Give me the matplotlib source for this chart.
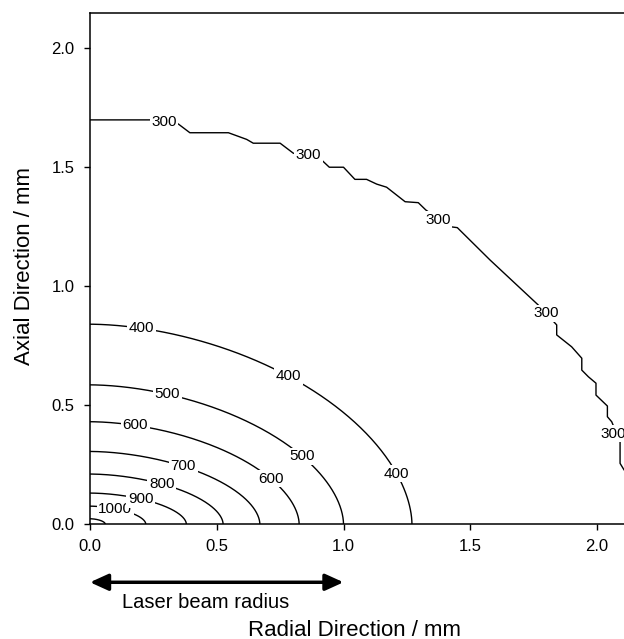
import matplotlib
matplotlib.use("Agg")
import matplotlib.pyplot as plt
import numpy as np

plt.rcParams['font.family'] = ['Liberation Sans', 'DejaVu Sans']

# closed-form isotherms: level, radial intercept, axial intercept (mm)
levels = [1100, 1000, 900, 800, 700, 600, 500, 400]
radial_int = [0.06, 0.22, 0.38, 0.525, 0.67, 0.825, 1.0, 1.27]
axial_int = [0.022, 0.075, 0.13, 0.21, 0.305, 0.43, 0.585, 0.84]
label_r = {1000: [0.10], 900: [0.20], 800: [0.283], 700: [0.368],
           600: [0.178, 0.713], 500: [0.305, 0.838], 400: [0.204, 0.782, 1.21]}

# 300 isotherm, read as a stepped line
r300 = [0, 0.237, 0.348, 0.394, 0.546, 0.618, 0.644, 0.75, 0.802, 0.914, 0.944, 1.0,
        1.045, 1.091, 1.131, 1.170, 1.243, 1.295, 1.325, 1.420, 1.449, 1.578, 1.768,
        1.841, 1.841, 1.900, 1.940, 1.940, 1.966, 1.996, 1.996, 2.041, 2.041, 2.058,
        2.091, 2.091, 2.107, 2.15]
z300 = [1.699, 1.699, 1.682, 1.645, 1.645, 1.617, 1.601, 1.601, 1.559, 1.530, 1.500, 1.5,
        1.449, 1.449, 1.429, 1.416, 1.355, 1.351, 1.320, 1.250, 1.246, 1.110, 0.921,
        0.837, 0.795, 0.745, 0.697, 0.647, 0.619, 0.592, 0.542, 0.496, 0.451, 0.430,
        0.346, 0.255, 0.227, 0.19]
labels300 = [(0.292, 1.69), (0.861, 1.551), (1.372, 1.28), (1.80, 0.886), (2.065, 0.38)]

n = 1.8
W, H = 624, 639
fig = plt.figure(figsize=(W / 100, H / 100), dpi=100)
ax = fig.add_axes([90 / W, (H - 524) / H, 2.25 * 253.5 / W, (524 - 13) / H])
ax.set_xlim(0, 2.25)
ax.set_ylim(0, (524 - 13) / 237.85)

def curve_y(x, a, b):
    return b * np.clip(1 - (x / a) ** n, 0, 1) ** (1 / n)

lab_style = dict(fontsize=11, ha='center', va='center', zorder=3,
                 bbox=dict(facecolor='white', edgecolor='none', pad=1.2))

t = np.linspace(0, np.pi / 2, 200)
for lev, a, b in zip(levels, radial_int, axial_int):
    xs = a * np.cos(t) ** (2 / n)
    ys = b * np.sin(t) ** (2 / n)
    ax.plot(xs, ys, color='black', lw=1.0, zorder=2)
    for xl in label_r.get(lev, []):
        ax.text(xl, curve_y(xl, a, b), str(lev), **lab_style)

ax.plot(r300, z300, color='black', lw=1.0, zorder=2)
for xl, yl in labels300:
    ax.text(xl, yl, '300', **lab_style)

ax.set_xticks([0, 0.5, 1.0, 1.5, 2.0])
ax.set_yticks([0, 0.5, 1.0, 1.5, 2.0])
ax.xaxis.set_major_formatter(matplotlib.ticker.FormatStrFormatter('%.1f'))
ax.yaxis.set_major_formatter(matplotlib.ticker.FormatStrFormatter('%.1f'))
ax.tick_params(direction='out', length=4, width=1.0, labelsize=12, pad=7)
for s in ax.spines.values():
    s.set_linewidth(1.1)

ax.annotate('', xy=(1.0, -0.245), xytext=(0, -0.245), xycoords='data',
            annotation_clip=False,
            arrowprops=dict(arrowstyle='<|-|>,head_length=1.1,head_width=0.5',
                            color='black', lw=2.5, shrinkA=0, shrinkB=0))
ax.text(0.458, -0.33, 'Laser beam radius', fontsize=14.5, ha='center', va='center',
        clip_on=False)

fig.text(354 / W, 1 - 630 / H, 'Radial Direction / mm', fontsize=16, ha='center', va='center')
fig.text(25 / W, 1 - 266 / H, 'Axial Direction / mm', fontsize=16, ha='center', va='center',
         rotation=90)

fig.savefig('out.png', dpi=100)
